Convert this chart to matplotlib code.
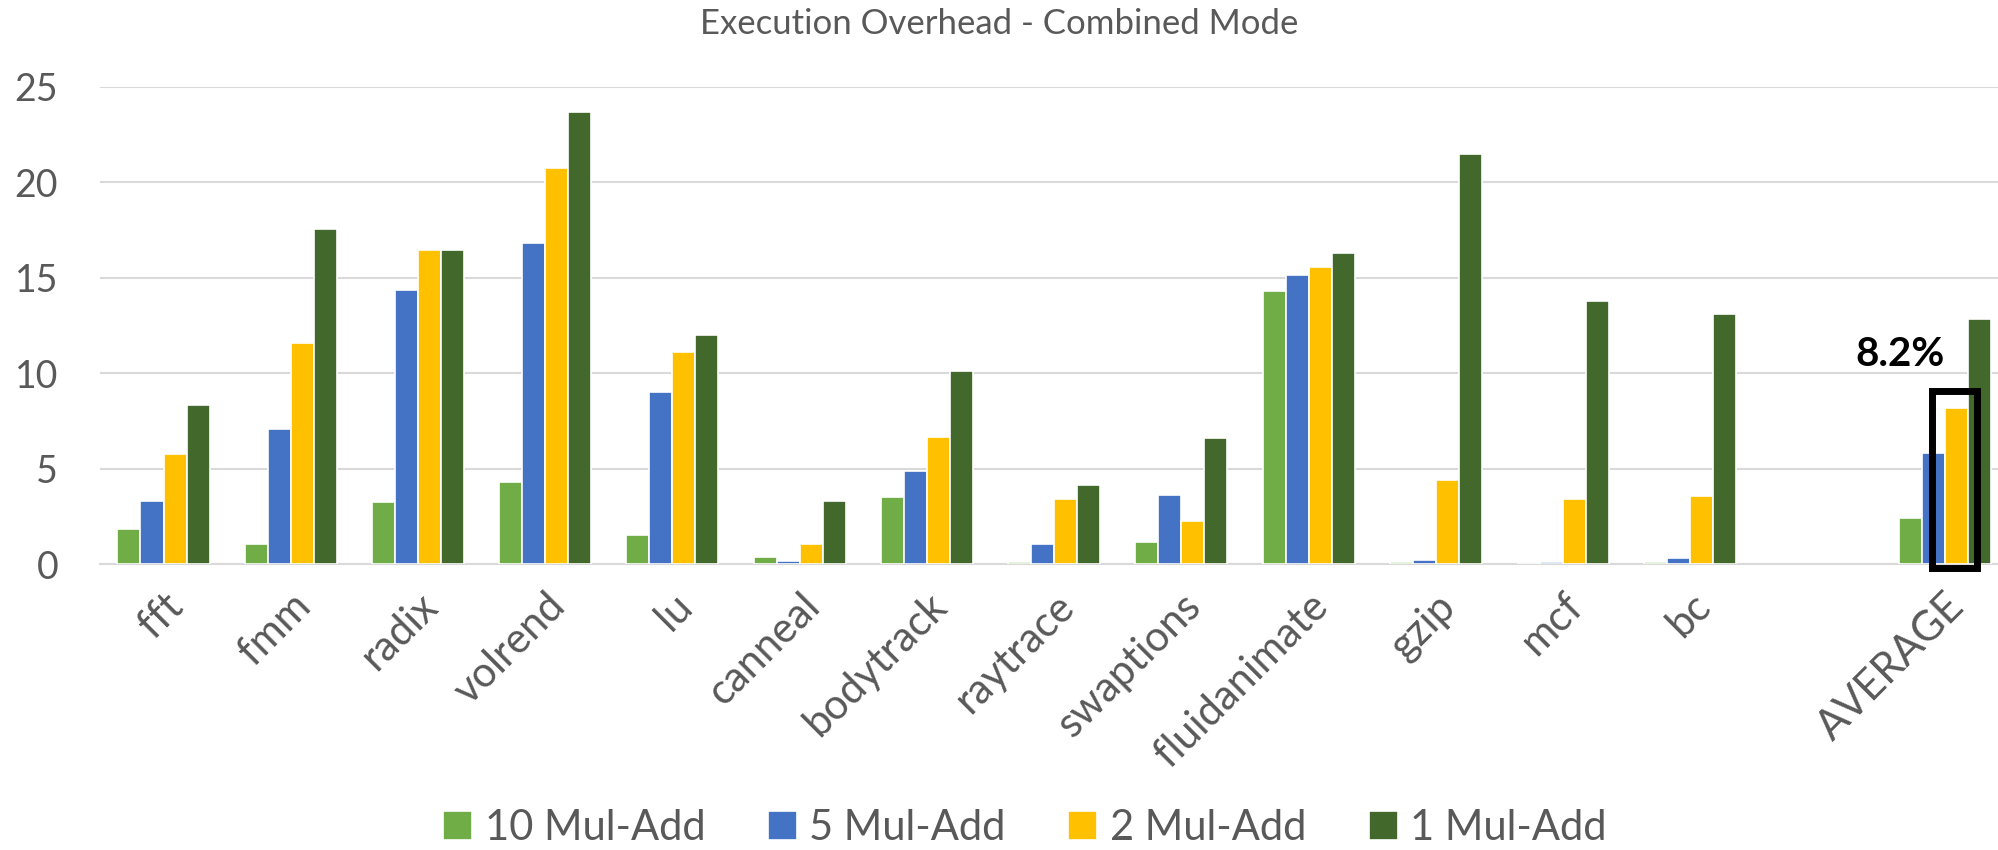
import numpy as np
import matplotlib.pyplot as plt
from matplotlib.patches import Rectangle

categories = ['fft', 'fmm', 'radix', 'volrend', 'lu', 'canneal', 'bodytrack',
              'raytrace', 'swaptions', 'fluidanimate', 'gzip', 'mcf', 'bc', '', 'AVERAGE']
series_names = ['10 Mul-Add', '5 Mul-Add', '2 Mul-Add', '1 Mul-Add']
colors = ['#70AD47', '#4472C4', '#FFC000', '#43682B']

mul10 = [1.84, 1.08, 3.24, 4.32, 1.54, 0.40, 3.52, 0.12, 1.18, 14.30, 0.14, 0.0, 0.14, np.nan, 2.44]
mul5 = [3.30, 7.10, 14.36, 16.84, 9.02, 0.16, 4.88, 1.08, 3.64, 15.14, 0.22, 0.12, 0.32, np.nan, 5.84]
mul2 = [5.80, 11.60, 16.44, 20.76, 11.14, 1.06, 6.66, 3.40, 2.26, 15.54, 4.44, 3.42, 3.58, np.nan, 8.20]
mul1 = [8.34, 17.56, 16.48, 23.70, 11.98, 3.30, 10.14, 4.14, 6.60, 16.32, 21.46, 13.78, 13.12, np.nan, 12.84]

text_col = '#595959'
plt.rcParams['font.family'] = ['Lato', 'DejaVu Sans']

fig = plt.figure(figsize=(19.98, 8.5), dpi=100)
ax = fig.add_axes([0.05, 0.336, 0.952, 0.562])

x = np.arange(len(categories))
w = 0.181
for i, (vals, name, c) in enumerate(zip([mul10, mul5, mul2, mul1], series_names, colors)):
    ax.bar(x + (i - 1.5) * w, vals, w, color=c, edgecolor='white', linewidth=1.2,
           label=name, zorder=3)

ax.set_ylim(0, 25)
ax.set_xlim(-0.5, 14.45)
ax.set_yticks([0, 5, 10, 15, 20, 25])
ax.yaxis.grid(True, color='#D9D9D9', linewidth=1.5, zorder=0)
ax.set_axisbelow(True)
for s in ['top', 'right', 'left']:
    ax.spines[s].set_visible(False)
ax.spines['bottom'].set_color('#D9D9D9')
ax.spines['bottom'].set_linewidth(1.5)
ax.tick_params(axis='both', length=0, labelcolor=text_col)
ax.tick_params(axis='y', pad=30, labelsize=27)
ax.set_xticks(x)
ax.set_xticklabels(categories, rotation=45, ha='right', va='top', rotation_mode='anchor')
ax.tick_params(axis='x', pad=16, labelsize=30)

fig.text(0.5, 0.972, 'Execution Overhead - Combined Mode', fontsize=25, color=text_col,
         ha='center', va='center')

# highlight box around the average 2 Mul-Add bar
xa = 14 + 0.5 * w
ax.add_patch(Rectangle((xa - 0.19, -0.2), 0.35, 9.26, fill=False, edgecolor='black',
                       linewidth=5, zorder=5, clip_on=False))
ax.text(xa - 0.44, 11.0, '8.2%', fontsize=29, fontweight='bold', ha='center', va='center',
        color='black')

fig.legend(loc='center', bbox_to_anchor=(0.513, 0.026), ncol=4, frameon=False,
           fontsize=30, labelcolor=text_col, handlelength=0.7, handleheight=0.7,
           handletextpad=0.3, columnspacing=1.5)

fig.savefig('out.png', dpi=100)
